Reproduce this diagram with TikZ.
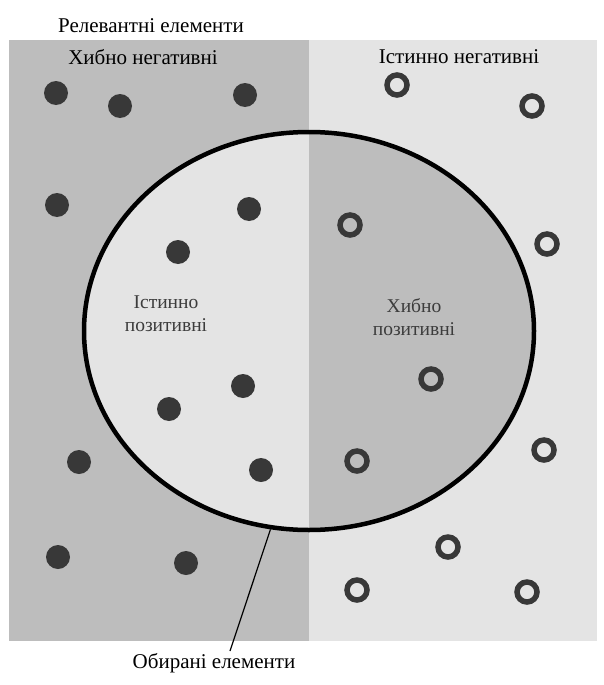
\documentclass[tikz,border=0pt]{standalone}
\usepackage{fontspec}
\setmainfont{Liberation Serif}
\usetikzlibrary{shapes.geometric}
\definecolor{darkbg}{HTML}{BDBDBD}
\definecolor{lightbg}{HTML}{E4E4E4}
\definecolor{dotc}{HTML}{383838}
\definecolor{inlbl}{HTML}{3C3C3C}
\tikzset{
  dot/.style={circle, fill=dotc, minimum size=24pt, inner sep=0pt},
  ring/.style={circle, draw=dotc, line width=5.5pt, minimum size=20pt, inner sep=0pt},
  outlbl/.style={font=\fontsize{21}{24}\selectfont, inner sep=0pt},
  inlbl/.style={font=\fontsize{19.5}{23}\selectfont, text=inlbl, align=center, inner sep=0pt},
}
\begin{document}
\begin{tikzpicture}[x=1pt,y=-1pt]
\useasboundingbox (0,0) rectangle (604,685);
% relevant (left) and non-relevant (right) areas
\fill[darkbg] (9,40) rectangle (309,641);
\fill[lightbg] (309,40) rectangle (597,641);
% selected area: halves with swapped shades
\begin{scope}
  \clip (309,331) ellipse [x radius=225, y radius=199];
  \fill[lightbg] (80,120) rectangle (309,540);
  \fill[darkbg] (309,120) rectangle (540,540);
\end{scope}
\node[ellipse, draw=black, line width=4.5pt, minimum width=450pt, minimum height=398pt, inner sep=0pt] (sel) at (309,331) {};

% labels
\node[outlbl] (rel) at (151,26) {Релевантні елементи};
\node[outlbl] (fn) at (143,57) {Хибно негативні};
\node[outlbl] (tn) at (459,57) {Істинно негативні};
\node[inlbl] (tp) at (166,314) {Істинно\\позитивні};
\node[inlbl] (fp) at (414,317) {Хибно\\позитивні};
\node[outlbl] (sl) at (214,663) {Обирані елементи};
\coordinate (slend) at (230,651);
\draw[line width=1.2pt] (sel.-101.8) -- (slend);

% relevant items
\node[dot] (d1) at (56,93) {};
\node[dot] (d2) at (120,106) {};
\node[dot] (d3) at (245,95) {};
\node[dot] (d4) at (57,205) {};
\node[dot] (d5) at (249,209) {};
\node[dot] (d6) at (178,252) {};
\node[dot] (d7) at (243,386) {};
\node[dot] (d8) at (169,409) {};
\node[dot] (d9) at (79,462) {};
\node[dot] (d10) at (261,470) {};
\node[dot] (d11) at (58,557) {};
\node[dot] (d12) at (186,563) {};

% non-relevant items
\node[ring] (r1) at (397,85) {};
\node[ring] (r2) at (532,106) {};
\node[ring] (r3) at (350,225) {};
\node[ring] (r4) at (547,244) {};
\node[ring] (r5) at (431,379) {};
\node[ring] (r6) at (357,461) {};
\node[ring] (r7) at (544,450) {};
\node[ring] (r8) at (448,547) {};
\node[ring] (r9) at (357,590) {};
\node[ring] (r10) at (527,592) {};
\end{tikzpicture}
\end{document}
